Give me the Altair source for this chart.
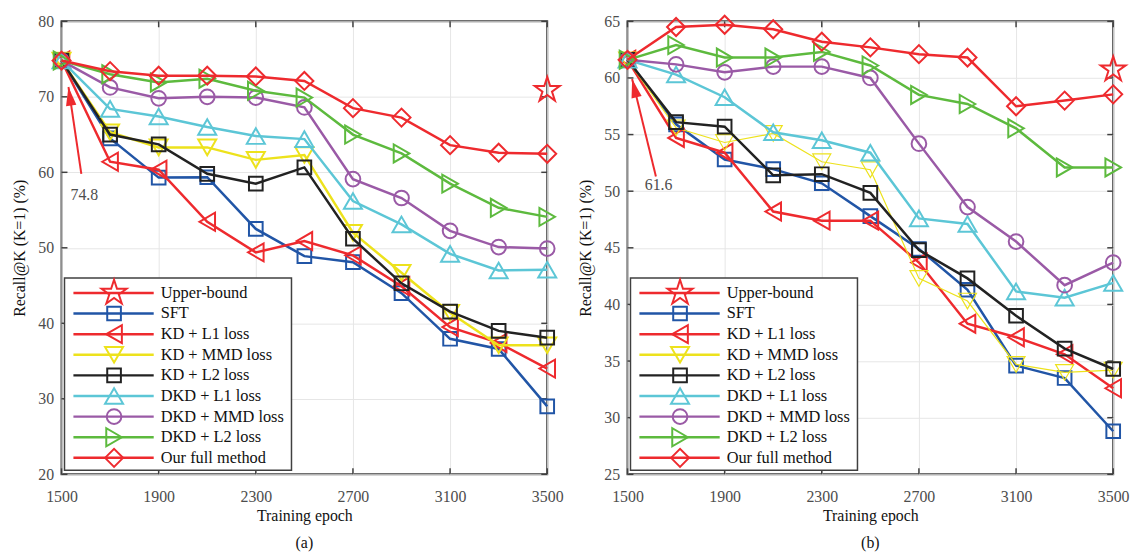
import altair as alt
import pandas as pd

FONT = "Liberation Serif"

EPOCHS = [1500, 1700, 1900, 2100, 2300, 2500, 2700, 2900, 3100, 3300, 3500]
X_TICKS = [1500, 1900, 2300, 2700, 3100, 3500]

METHODS = ["Upper-bound", "SFT", "KD + L1 loss", "KD + MMD loss", "KD + L2 loss",
           "DKD + L1 loss", "DKD + MMD loss", "DKD + L2 loss", "Our full method"]
COLORS = ["#EE2A2E", "#2155A6", "#EE2A2E", "#EDE21C", "#222222",
          "#5CC6D6", "#9A5AA6", "#5DBA3E", "#EE2A2E"]
STAR = ("M0,-1L0.2245,-0.309L0.951,-0.309L0.363,0.118L0.588,0.809L0,0.382"
        "L-0.588,0.809L-0.363,0.118L-0.951,-0.309L-0.2245,-0.309Z")
ARROW_HEAD = "M0,0L-0.5,1.8L0.5,1.8Z"
SHAPES = [STAR, "square", "triangle-left", "triangle-down", "square",
          "triangle-up", "circle", "triangle-right", "diamond"]
SIZES = [700, 190, 330, 330, 190, 330, 220, 330, 330]

# ---- panel (a) ----
A_UPPER = 70.9
A_SFT = [74.8, 64.5, 59.3, 59.35, 52.5, 48.9, 48.1, 44.0, 37.95, 36.6, 29.0]
A_KD_L1 = [74.8, 61.4, 60.35, 53.45, 49.4, 50.9, 49.0, 44.9, 39.5, 37.4, 34.0]
A_KD_MMD = [74.8, 65.3, 63.3, 63.3, 61.65, 62.3, 52.0, 46.7, 41.4, 37.1, 37.1]
A_KD_L2 = [74.8, 65.0, 63.7, 59.8, 58.5, 60.65, 51.2, 45.3, 41.55, 39.0, 38.1]
A_DKD_L1 = [74.8, 68.4, 67.4, 66.0, 64.8, 64.4, 56.2, 53.1, 49.2, 47.0, 47.1]
A_DKD_MMD = [74.8, 71.25, 69.8, 70.0, 69.9, 68.6, 59.1, 56.6, 52.25, 50.1, 49.9]
A_DKD_L2 = [74.8, 73.0, 71.9, 72.4, 70.8, 69.9, 65.0, 62.5, 58.5, 55.3, 54.1]
A_OURS = [74.8, 73.4, 72.8, 72.8, 72.7, 72.1, 68.5, 67.25, 63.6, 62.6, 62.45]
A_Y_TICKS = [20, 30, 40, 50, 60, 70, 80]
A_ANNOT = "74.8"

# ---- panel (b) ----
B_UPPER = 60.75
B_SFT = [61.6, 55.9, 52.8, 51.95, 50.7, 47.8, 44.9, 41.3, 34.6, 33.5, 28.8]
B_KD_L1 = [61.6, 54.7, 53.4, 48.2, 47.4, 47.4, 43.7, 38.3, 37.1, 35.6, 32.6]
B_KD_MMD = [61.6, 55.6, 54.3, 55.1, 52.6, 51.9, 42.3, 40.3, 34.7, 34.0, 34.2]
B_KD_L2 = [61.6, 56.1, 55.7, 51.4, 51.5, 49.85, 44.8, 42.3, 39.0, 36.1, 34.3]
B_DKD_L1 = [61.6, 60.3, 58.3, 55.2, 54.5, 53.4, 47.6, 47.1, 41.15, 40.6, 41.9]
B_DKD_MMD = [61.6, 61.2, 60.5, 61.0, 61.0, 60.0, 54.2, 48.6, 45.55, 41.7, 43.7]
B_DKD_L2 = [61.6, 62.9, 61.8, 61.8, 62.3, 61.1, 58.5, 57.7, 55.55, 52.1, 52.1]
B_OURS = [61.6, 64.5, 64.7, 64.3, 63.2, 62.7, 62.1, 61.8, 57.5, 58.0, 58.55]
B_Y_TICKS = [25, 30, 35, 40, 45, 50, 55, 60, 65]
B_ANNOT = "61.6"

W, H = 490, 457
RED = "#EE2A2E"
FRAME = "#404040"


def panel(series, upper, ydom, yticks, annot_text, arrow_pts, text_pt, head_angle,
          thin_yellow, label):
    rows = []
    for m, vals in zip(METHODS[1:], series):
        for e, v in zip(EPOCHS, vals):
            rows.append({"method": m, "epoch": e, "value": v})
    rows.append({"method": METHODS[0], "epoch": EPOCHS[-1], "value": upper})
    df = pd.DataFrame(rows)

    xs = alt.Scale(domain=[EPOCHS[0], EPOCHS[-1]], nice=False, zero=False)
    ys = alt.Scale(domain=ydom, nice=False, zero=False)
    xax = alt.Axis(values=X_TICKS, format="d", title="Training epoch", labelFlush=False)
    yax = alt.Axis(values=yticks, title="Recall@K (K=1) (%)", labelFlush=False)

    def X(f):
        return alt.X(f, scale=xs, axis=xax)

    def Y(f):
        return alt.Y(f, scale=ys, axis=yax)

    base = alt.Chart(df)
    layers = []

    # inward ticks on all four sides
    xt = alt.Chart(pd.DataFrame({"t": X_TICKS}))
    yt = alt.Chart(pd.DataFrame({"t": yticks}))
    tk = dict(color=FRAME, strokeWidth=1.5)
    layers.append(xt.mark_rule(**tk).encode(
        x=X("t:Q"), y=alt.value(H), y2=alt.value(H - 6)))
    layers.append(xt.mark_rule(**tk).encode(
        x=X("t:Q"), y=alt.value(0), y2=alt.value(6)))
    layers.append(yt.mark_rule(**tk).encode(
        y=Y("t:Q"), x=alt.value(0), x2=alt.value(6)))
    layers.append(yt.mark_rule(**tk).encode(
        y=Y("t:Q"), x=alt.value(W - 6), x2=alt.value(W)))

    for m, c, s, sz in zip(METHODS, COLORS, SHAPES, SIZES):
        sub = base.transform_filter(alt.datum.method == m)
        thin = thin_yellow and m == "KD + MMD loss"
        lw = 1.2 if thin else 2.5
        pw = 1.2 if thin else 2.0
        if m != "Upper-bound":
            layers.append(sub.mark_line(color=c, strokeWidth=lw).encode(
                x=X("epoch:Q"), y=Y("value:Q")))
        layers.append(sub.mark_point(shape=s, size=sz, filled=False, color=c,
                                     strokeWidth=pw, opacity=1).encode(
            x=X("epoch:Q"), y=Y("value:Q")))

    # annotation arrow
    adf = pd.DataFrame({"ax": [arrow_pts[0][0], arrow_pts[1][0]],
                        "ay": [arrow_pts[0][1], arrow_pts[1][1]],
                        "o": [0, 1]})
    layers.append(alt.Chart(adf).mark_line(color=RED, strokeWidth=2).encode(
        x=X("ax:Q"), y=Y("ay:Q"), order="o:Q"))
    hdf = pd.DataFrame({"ax": [arrow_pts[1][0]], "ay": [arrow_pts[1][1]]})
    layers.append(alt.Chart(hdf).mark_point(shape=ARROW_HEAD, size=440, filled=True,
                                            color=RED, angle=head_angle, opacity=1,
                                            strokeWidth=0).encode(
        x=X("ax:Q"), y=Y("ay:Q")))
    tdf = pd.DataFrame({"ax": [text_pt[0]], "ay": [text_pt[1]], "txt": [annot_text]})
    layers.append(alt.Chart(tdf).mark_text(font=FONT, fontSize=16, color="#4d4d4d",
                                           align="center", baseline="middle").encode(
        x=X("ax:Q"), y=Y("ay:Q"), text="txt:N"))

    # legend (drawn inside the plot, like the original)
    box = pd.DataFrame({"k": [0]})
    layers.append(alt.Chart(box).mark_rect(fill="white", stroke=FRAME,
                                           strokeWidth=1.5).encode(
        x=alt.value(3), x2=alt.value(232), y=alt.value(259), y2=alt.value(453)))
    ldf = pd.DataFrame({"label": METHODS, "color": COLORS, "shape": SHAPES,
                        "size": SIZES, "i": list(range(len(METHODS)))})
    ldf["py"] = 274 + 20.8 * ldf["i"]
    ly = alt.Y("py:Q", scale=None, axis=None)
    lc = alt.Color("color:N", scale=None, legend=None)
    lch = alt.Chart(ldf)
    layers.append(lch.mark_rule(strokeWidth=2.5).encode(
        x=alt.value(12), x2=alt.value(93), y=ly, color=lc))
    layers.append(lch.mark_point(filled=False, strokeWidth=2.0, opacity=1).encode(
        x=alt.value(53), y=ly, color=lc,
        shape=alt.Shape("shape:N", scale=None, legend=None),
        size=alt.Size("size:Q", scale=None, legend=None)))
    layers.append(lch.mark_text(font=FONT, fontSize=16.5, color="#111111",
                                align="left", baseline="middle").encode(
        x=alt.value(100), y=ly, text="label:N"))

    return alt.layer(*layers).properties(
        width=W, height=H,
        title=alt.TitleParams(label, orient="bottom", anchor="middle",
                              frame="group", offset=11))


left = panel([A_SFT, A_KD_L1, A_KD_MMD, A_KD_L2, A_DKD_L1, A_DKD_MMD, A_DKD_L2, A_OURS],
             A_UPPER, [20, 80], A_Y_TICKS, A_ANNOT,
             [(1581.6, 59.8), (1528.6, 71.3)], (1594, 57.0), 351.6, False, "(a)")
right = panel([B_SFT, B_KD_L1, B_KD_MMD, B_KD_L2, B_DKD_L1, B_DKD_MMD, B_DKD_L2, B_OURS],
              B_UPPER, [25, 65], B_Y_TICKS, B_ANNOT,
              [(1617, 51.3), (1519, 59.9)], (1628, 50.5), 346.2, True, "(b)")

chart = alt.hconcat(left, right, spacing=81, bounds="flush").properties(
    padding={"left": 3, "top": 0, "right": 5, "bottom": 5}
).configure_view(
    stroke=FRAME, strokeWidth=2
).configure_axis(
    labelFont=FONT, labelFontSize=16, labelColor="#4d4d4d",
    titleFont=FONT, titleFontSize=16, titleFontWeight="normal", titleColor="#111111",
    ticks=False, domain=False, grid=True, gridColor="#e6e6e6", gridWidth=1,
    labelPadding=8
).configure_axisX(titlePadding=4, labelPadding=14).configure_axisY(titlePadding=10).configure_title(
    font=FONT, fontSize=16, fontWeight="normal", color="#111111"
)

chart.save("out.html", embed_options={"renderer": "svg", "actions": False})
